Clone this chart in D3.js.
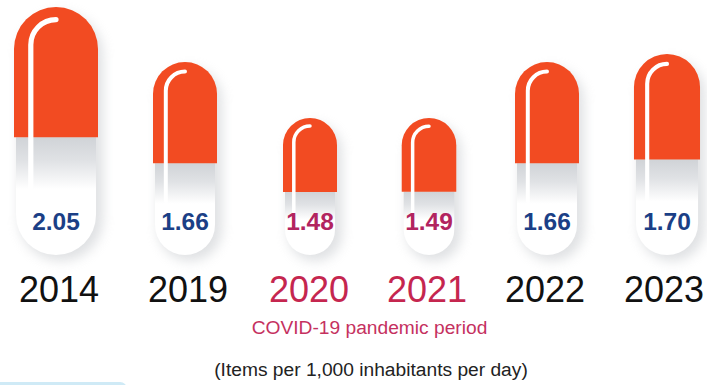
<!DOCTYPE html>
<html>
<head>
<meta charset="utf-8">
<script src="https://cdn.jsdelivr.net/npm/d3@7"></script>
<style>
html,body{margin:0;padding:0;background:#fff;overflow:hidden}
svg{display:block}
text{font-family:"Liberation Sans",Arial,sans-serif}
</style>
</head>
<body>
<svg id="chart" width="707" height="385"></svg>
<script>
const years = ["2014", "2019", "2020", "2021", "2022", "2023"];
const values = [2.05, 1.66, 1.48, 1.49, 1.66, 1.70];
const pandemicYears = ["2020", "2021"];
const pandemicNote = "COVID-19 pandemic period";
const unitNote = "(Items per 1,000 inhabitants per day)";

const svg = d3.select("#chart");
const baseline = 255;

// Capsule centres and year-label centres along the row
const x = d3.scaleOrdinal().domain(years).range([56, 185, 310, 429, 547, 667]);
const xLabel = d3.scaleOrdinal().domain(years).range([59, 188, 309, 427, 545, 664]);
// Capsule size grows with the value, with separate slopes per range
const heightScale = d3.scaleLinear().domain([1.48, 1.49, 1.66, 1.70, 2.05]).range([137, 137, 193, 201, 248]);
const widthScale = d3.scaleLinear().domain([1.48, 1.66, 2.05]).range([54, 64, 84]);
// Share of the capsule covered by the coloured cap
const capShare = d3.scaleLinear().domain([1.48, 1.66]).range([0.54, 0.525]).clamp(true);

const defs = svg.append("defs");
const fade = defs.append("linearGradient").attr("id", "bodyFade")
  .attr("x1", 0).attr("x2", 0).attr("y1", 0).attr("y2", 1);
fade.append("stop").attr("offset", 0).attr("stop-color", "#d0d3d7");
fade.append("stop").attr("offset", 0.2).attr("stop-color", "#e0e2e5");
fade.append("stop").attr("offset", 0.44).attr("stop-color", "#ffffff");

const shadow = defs.append("filter").attr("id", "softShadow")
  .attr("x", "-40%").attr("y", "-20%").attr("width", "190%").attr("height", "140%");
shadow.append("feGaussianBlur").attr("stdDeviation", 6);

const soft = defs.append("filter").attr("id", "soften");
soft.append("feGaussianBlur").attr("stdDeviation", 0.45);

const capPath = (w, top, split) => {
  const r = w / 2;
  const p = d3.path();
  p.moveTo(-r, split);
  p.lineTo(-r, top + r);
  p.arc(0, top + r, r, Math.PI, 2 * Math.PI);
  p.lineTo(r, split);
  p.closePath();
  return p.toString();
};

const bodyPath = (w, split, bottom) => {
  const r = w / 2;
  const p = d3.path();
  p.moveTo(-r, split);
  p.lineTo(-r, bottom - r);
  p.arc(0, bottom - r, r, Math.PI, 0, true);
  p.lineTo(r, split);
  p.closePath();
  return p.toString();
};

const glintPath = (w, top, split) => {
  const left = -w * 0.3;
  const r = w * 0.3;
  const upper = top + w * 0.15;
  const p = d3.path();
  p.moveTo(left, split + (baseline - split) * 0.42);
  p.lineTo(left, upper + r);
  p.arc(left + r, upper + r, r, Math.PI, 1.5 * Math.PI);
  return p.toString();
};

const rows = years.map((year, i) => {
  const h = heightScale(values[i]);
  const w = widthScale(values[i]);
  const top = baseline - h;
  return { year, value: values[i], w, top, split: top + h * capShare(values[i]) };
});

const capsules = svg.selectAll("g.capsule").data(rows).join("g")
  .attr("class", "capsule")
  .attr("transform", d => `translate(${x(d.year)},0)`);

// Shadow sits behind the whole capsule, offset down and to the right
capsules.append("rect")
  .attr("x", d => -d.w / 2 + 5).attr("width", d => d.w)
  .attr("y", d => d.top + 6).attr("height", d => baseline - d.top)
  .attr("rx", d => d.w / 2)
  .attr("fill", "#b4b8bd").attr("opacity", 0.42)
  .attr("filter", "url(#softShadow)");

const inner = capsules.append("g").attr("filter", "url(#soften)");

inner.append("path")
  .attr("d", d => bodyPath(d.w - 4, d.split, baseline))
  .attr("fill", "url(#bodyFade)");

inner.append("path")
  .attr("d", d => capPath(d.w, d.top, d.split))
  .attr("fill", "#f24c21");

inner.append("path")
  .attr("d", d => glintPath(d.w, d.top, d.split))
  .attr("fill", "none")
  .attr("stroke", "#ffffff")
  .attr("stroke-width", d => Math.max(3.5, d.w * 0.062))
  .attr("stroke-linecap", "round");

capsules.append("text")
  .attr("text-anchor", "middle")
  .attr("y", 230)
  .attr("font-size", 24.5)
  .attr("font-weight", 700)
  .attr("fill", d => pandemicYears.includes(d.year) ? "#b2245f" : "#1b3f86")
  .text(d => d.value.toFixed(2));

svg.selectAll("text.year").data(rows).join("text")
  .attr("class", "year")
  .attr("x", d => xLabel(d.year))
  .attr("y", 302)
  .attr("text-anchor", "middle")
  .attr("font-size", 36)
  .attr("fill", d => pandemicYears.includes(d.year) ? "#c5264f" : "#111111")
  .text(d => d.year);

svg.append("text")
  .attr("x", 369.5).attr("y", 334)
  .attr("text-anchor", "middle")
  .attr("font-size", 19.2)
  .attr("fill", "#c5315f")
  .text(pandemicNote);

svg.append("text")
  .attr("x", 371).attr("y", 376)
  .attr("text-anchor", "middle")
  .attr("font-size", 19.2)
  .attr("fill", "#222222")
  .text(unitNote);

// Edge of the pale panel that begins just below this row
svg.append("rect")
  .attr("x", -20).attr("y", 382)
  .attr("width", 147).attr("height", 30)
  .attr("rx", 7)
  .attr("fill", "#cfeaf6");
</script>
</body>
</html>
